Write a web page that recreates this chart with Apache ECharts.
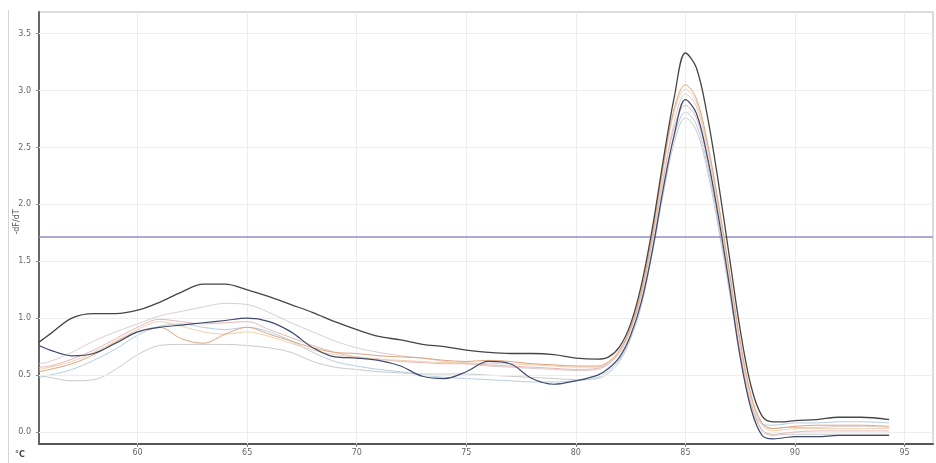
<!DOCTYPE html>
<html>
<head>
<meta charset="utf-8">
<script src="https://cdn.jsdelivr.net/npm/echarts@6/dist/echarts.min.js"></script>
<style>
  html, body { margin: 0; padding: 0; background: #ffffff; }
  #chart { width: 936px; height: 463px; }
</style>
</head>
<body>
<div id="chart"></div>
<script>
// Melt-curve derivative (-dF/dT) vs temperature, one row per well
const temps = [
  55.5, 56, 57, 58, 59, 60, 61, 62, 63, 64, 65, 66, 67, 68, 69, 70, 71, 72, 73, 74, 75, 76, 77, 78, 79, 80, 81,
  81.5, 82, 82.5, 83, 83.5, 84, 84.5, 85, 85.5, 86, 86.5, 87, 87.5, 88, 88.5, 89, 89.5,
  90, 91, 92, 93, 94.3
];

const wellA = [
  0.79, 0.86, 1.00, 1.04, 1.04, 1.07, 1.14, 1.23, 1.30, 1.30, 1.25, 1.19, 1.12, 1.05, 0.97, 0.90, 0.84, 0.81, 0.77, 0.75, 0.72, 0.70, 0.69, 0.69, 0.68, 0.65, 0.64,
  0.66, 0.75, 0.95, 1.30, 1.80, 2.40, 2.95, 3.33, 3.20, 2.78, 2.20, 1.55, 0.90, 0.40, 0.14, 0.09, 0.09,
  0.10, 0.11, 0.13, 0.13, 0.11
];
const wellB = [
  0.76, 0.72, 0.67, 0.69, 0.78, 0.88, 0.92, 0.94, 0.96, 0.98, 1.00, 0.97, 0.88, 0.74, 0.66, 0.65, 0.63, 0.58, 0.49, 0.47, 0.53, 0.62, 0.60, 0.47, 0.42, 0.45, 0.50,
  0.56, 0.66, 0.85, 1.15, 1.60, 2.15, 2.62, 2.92, 2.80, 2.42, 1.90, 1.30, 0.66, 0.20, -0.03, -0.06, -0.05,
  -0.04, -0.04, -0.03, -0.03, -0.03
];
const wellC = [
  0.53, 0.55, 0.60, 0.68, 0.79, 0.88, 0.92, 0.82, 0.78, 0.86, 0.92, 0.86, 0.80, 0.74, 0.70, 0.69, 0.67, 0.66, 0.65, 0.63, 0.62, 0.63, 0.62, 0.60, 0.59, 0.58, 0.58,
  0.62, 0.72, 0.92, 1.25, 1.75, 2.35, 2.85, 3.05, 2.93, 2.55, 2.02, 1.42, 0.80, 0.32, 0.08, 0.03, 0.04,
  0.05, 0.06, 0.06, 0.06, 0.05
];
const wellD = [
  0.57, 0.58, 0.64, 0.72, 0.82, 0.92, 0.99, 0.97, 0.95, 0.96, 0.97, 0.90, 0.83, 0.76, 0.70, 0.66, 0.64, 0.62, 0.61, 0.60, 0.60, 0.59, 0.58, 0.57, 0.56, 0.55, 0.56,
  0.60, 0.70, 0.90, 1.22, 1.70, 2.25, 2.68, 2.87, 2.76, 2.40, 1.88, 1.30, 0.70, 0.25, 0.02, -0.02, -0.01,
  0.00, 0.01, 0.01, 0.01, 0.01
];
const wellE = [
  0.50, 0.48, 0.45, 0.46, 0.55, 0.68, 0.76, 0.77, 0.77, 0.77, 0.76, 0.74, 0.70, 0.62, 0.57, 0.55, 0.53, 0.52, 0.51, 0.51, 0.51, 0.50, 0.49, 0.48, 0.47, 0.46, 0.47,
  0.52, 0.62, 0.82, 1.12, 1.58, 2.10, 2.55, 2.76, 2.65, 2.30, 1.80, 1.24, 0.66, 0.22, 0.01, -0.03, -0.02,
  -0.02, -0.02, -0.02, -0.02, -0.02
];
const wellF = [
  0.60, 0.62, 0.70, 0.80, 0.88, 0.95, 1.02, 1.06, 1.10, 1.13, 1.12, 1.05, 0.96, 0.88, 0.80, 0.74, 0.70, 0.67, 0.65, 0.62, 0.60, 0.58, 0.57, 0.56, 0.55, 0.54, 0.55,
  0.60, 0.70, 0.90, 1.20, 1.68, 2.22, 2.73, 2.97, 2.86, 2.49, 1.96, 1.37, 0.76, 0.30, 0.07, 0.03, 0.04,
  0.04, 0.04, 0.05, 0.05, 0.04
];
const wellG = [
  0.48, 0.50, 0.55, 0.63, 0.73, 0.85, 0.93, 0.95, 0.92, 0.90, 0.92, 0.88, 0.80, 0.70, 0.62, 0.58, 0.55, 0.53, 0.50, 0.48, 0.47, 0.46, 0.45, 0.44, 0.44, 0.45, 0.48,
  0.54, 0.64, 0.84, 1.15, 1.62, 2.15, 2.60, 2.81, 2.70, 2.35, 1.84, 1.27, 0.68, 0.25, 0.07, 0.06, 0.07,
  0.08, 0.08, 0.09, 0.09, 0.08
];
const wellH = [
  0.55, 0.57, 0.62, 0.70, 0.80, 0.90, 0.97, 0.93, 0.88, 0.86, 0.88, 0.84, 0.78, 0.72, 0.68, 0.66, 0.64, 0.63, 0.62, 0.61, 0.61, 0.60, 0.60, 0.59, 0.58, 0.57, 0.57,
  0.61, 0.71, 0.92, 1.24, 1.74, 2.32, 2.82, 3.01, 2.90, 2.52, 1.99, 1.40, 0.78, 0.30, 0.06, 0.01, 0.02,
  0.03, 0.03, 0.03, 0.03, 0.03
];

const xTicks = [60, 65, 70, 75, 80, 85, 90, 95];
const yTicks = [0, 0.5, 1.0, 1.5, 2.0, 2.5, 3.0, 3.5];
const threshold = 1.72;

// pale wells first, dark ones last so they sit on top
const wells = [
  { name: 'E', values: wellE, color: '#cacaca', width: 1 },
  { name: 'G', values: wellG, color: '#b6cee3', width: 1 },
  { name: 'F', values: wellF, color: '#dccece', width: 1 },
  { name: 'D', values: wellD, color: '#e8b8b8', width: 1 },
  { name: 'H', values: wellH, color: '#f1d0b2', width: 1 },
  { name: 'C', values: wellC, color: '#e0a47c', width: 1 },
  { name: 'B', values: wellB, color: '#3d4a6e', width: 1.2 },
  { name: 'A', values: wellA, color: '#454545', width: 1.3 }
];

const gridLines = [
  ...xTicks.map(v => ({ xAxis: v })),
  ...yTicks.map(v => ({ yAxis: v }))
];

const series = wells.map((w, i) => ({
  name: w.name,
  type: 'line',
  smooth: 0.35,
  symbol: 'none',
  z: 3 + i,
  lineStyle: { color: w.color, width: w.width },
  data: temps.map((t, k) => [t, w.values[k]])
}));

// faint grid
series.unshift({
  type: 'line', data: [], z: 1, silent: true,
  markLine: {
    silent: true, symbol: 'none', label: { show: false },
    lineStyle: { color: '#ededed', width: 1, type: 'solid' },
    animation: false,
    data: gridLines
  }
});
// threshold line
series.push({
  type: 'line', data: [], z: 20, silent: true,
  markLine: {
    silent: true, symbol: 'none', label: { show: false },
    lineStyle: { color: '#8e8ec6', width: 1.6, type: 'solid' },
    animation: false,
    data: [{ yAxis: threshold }]
  }
});

const chart = echarts.init(document.getElementById('chart'), null, { renderer: 'canvas' });
chart.setOption({
  animation: false,
  backgroundColor: '#ffffff',
  grid: {
    left: 39, right: 3, top: 12, bottom: 19,
    show: true, borderColor: '#b8b8b8', borderWidth: 1
  },
  xAxis: {
    type: 'value', min: 55.5, max: 96.3,
    axisLine: { show: true, onZero: false, lineStyle: { color: '#555', width: 2 } },
    axisTick: { show: true, customValues: xTicks, length: 3, lineStyle: { color: '#888' } },
    axisLabel: { customValues: xTicks, color: '#666', fontSize: 8, margin: 5, fontFamily: 'DejaVu Sans' },
    splitLine: { show: false }
  },
  yAxis: {
    type: 'value', min: -0.105, max: 3.69,
    axisLine: { show: true, onZero: false, lineStyle: { color: '#666', width: 2 } },
    axisTick: { show: true, customValues: yTicks, length: 3, lineStyle: { color: '#888' } },
    axisLabel: {
      customValues: yTicks, color: '#666', fontSize: 8, margin: 8, fontFamily: 'DejaVu Sans',
      formatter: v => v.toFixed(1)
    },
    splitLine: { show: false }
  },
  graphic: [
    { type: 'line', shape: { x1: 8.5, y1: 10, x2: 8.5, y2: 463 }, style: { stroke: '#d6d6d6', lineWidth: 1 } },
    { type: 'text', x: 17, y: 222, rotation: Math.PI / 2,
      style: { text: '-dF/dT', fill: '#555', font: '8px DejaVu Sans', align: 'center', verticalAlign: 'middle' } },
    { type: 'text', x: 20, y: 455,
      style: { text: '°C', fill: '#444', font: 'bold 8px DejaVu Sans', align: 'center', verticalAlign: 'middle' } }
  ],
  series: series
});
</script>
</body>
</html>
